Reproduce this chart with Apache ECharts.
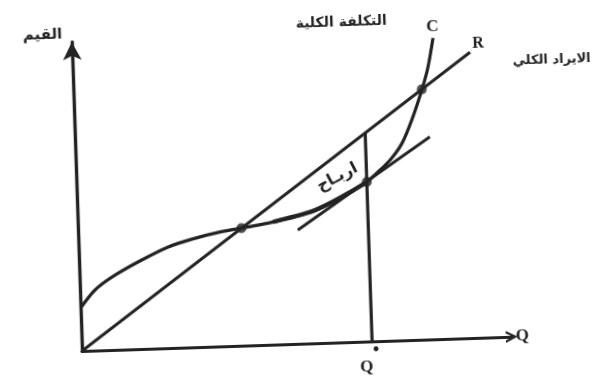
<!DOCTYPE html>
<html>
<head>
<meta charset="utf-8">
<script src="https://cdn.jsdelivr.net/npm/echarts@6/dist/echarts.min.js"></script>
<style>
  html, body { margin: 0; padding: 0; background: #fff; overflow: hidden; }
  /* the printed figure sits slightly askew on the page */
  #wrap { position: absolute; left: 0; top: 0; width: 640px; height: 420px;
          transform-origin: 82px 351px; transform: rotate(-1.9deg); }
</style>
</head>
<body>
<div id="wrap"></div>
<script>
// Total revenue (straight line through the origin)
const revenueQ = [0, 92.5];
const revenueV = [0, 92.5];

// Total cost curve
const costQ = [0, 3.5, 8.3, 14.6, 20.8, 26.4, 33.0, 39.3, 45.4, 54.1, 58.5, 63.5, 67.5, 69.5, 73.1, 76.0, 78.7, 81.0, 82.6, 84.0];
const costV = [13.9, 19.6, 24.2, 28.8, 32.7, 35.0, 37.0, 38.3, 39.7, 42.5, 45.0, 48.5, 51.6, 53.9, 58.5, 63.8, 72.1, 80.8, 88.1, 97.5];

// Line tangent to the cost curve at the profit-maximising output
const tangentQ = [51.1, 82.5];
const tangentV = [36.8, 65.5];

// Profit-maximising output Q*
const optimumQ = 67.5;
const optimumRevenue = 67.5;

// Marked points: break-even points and the tangency point
const markQ = [38.0, 67.5, 81.0];
const markV = [38.0, 51.6, 81.0];

const ink = '#232323';
const zip = (a, b) => a.map((v, i) => [v, b[i]]);

const chart = echarts.init(document.getElementById('wrap'), null, { renderer: 'canvas' });

const serifBold = { fontFamily: 'Liberation Serif', fontWeight: 'bold', fill: ink };
const arabicBold = { fontFamily: 'DejaVu Sans', fontWeight: 'bold', fill: ink };
const label = (x, y, text, size, base, extra) => ({
  type: 'text', x: x, y: y,
  style: Object.assign({ text: text, fontSize: size, align: 'center', verticalAlign: 'middle' }, base),
  ...(extra || {})
});

chart.setOption({
  backgroundColor: '#fff',
  animation: false,
  grid: { left: 82, top: 42, width: 430, height: 309, containLabel: false },
  xAxis: {
    type: 'value', min: 0, max: 100,
    axisLine: { show: true, lineStyle: { color: ink, width: 3.2 },
      symbol: ['none', 'path://M0,10 L5,0 L10,10 L8,10 L5,4 L2,10 Z'], symbolSize: [15, 12] },
    axisTick: { show: false }, axisLabel: { show: false }, splitLine: { show: false },
    name: 'Q', nameLocation: 'end', nameGap: 4,
    nameTextStyle: { fontFamily: 'Liberation Serif', fontWeight: 'bold', fontSize: 17, color: ink, verticalAlign: 'middle' }
  },
  yAxis: {
    type: 'value', min: 0, max: 100,
    axisLine: { show: true, lineStyle: { color: ink, width: 3.4 },
      symbol: ['none', 'arrow'], symbolSize: [14, 18] },
    axisTick: { show: false }, axisLabel: { show: false }, splitLine: { show: false }
  },
  series: [
    { type: 'line', data: zip(revenueQ, revenueV), symbol: 'none',
      lineStyle: { color: ink, width: 3 } },
    { type: 'line', data: zip(costQ, costV), symbol: 'none', smooth: 0.3,
      lineStyle: { color: ink, width: 3.2 } },
    { type: 'line', data: zip(costQ, costV).slice(8, 13), symbol: 'none', smooth: 0.3,
      lineStyle: { color: ink, width: 4.4 } },
    { type: 'line', data: zip(tangentQ, tangentV), symbol: 'none',
      lineStyle: { color: ink, width: 3 } },
    { type: 'line', data: [[optimumQ, 0], [optimumQ, optimumRevenue]], symbol: 'none',
      lineStyle: { color: ink, width: 3.2 } },
    { type: 'scatter', data: zip(markQ, markV), symbol: 'circle', symbolSize: 10,
      itemStyle: { color: ink } }
  ],
  graphic: [
    label(53, 34, 'القيم', 15, arabicBold),
    label(352, 31, 'التكلفة الكلية', 14, arabicBold),
    label(443, 39, 'C', 17, serifBold),
    label(488, 57, 'R', 16, serifBold),
    label(561, 76, 'الايراد الكلي', 13, arabicBold),
    label(366, 377, 'Q', 17, serifBold),
    label(376, 360, '•', 14, arabicBold),
    label(383, 357, 'ˉ', 11, arabicBold),
    label(343, 186, 'اربـاح', 16, arabicBold, { rotation: 0.45 })
  ]
});
</script>
</body>
</html>
